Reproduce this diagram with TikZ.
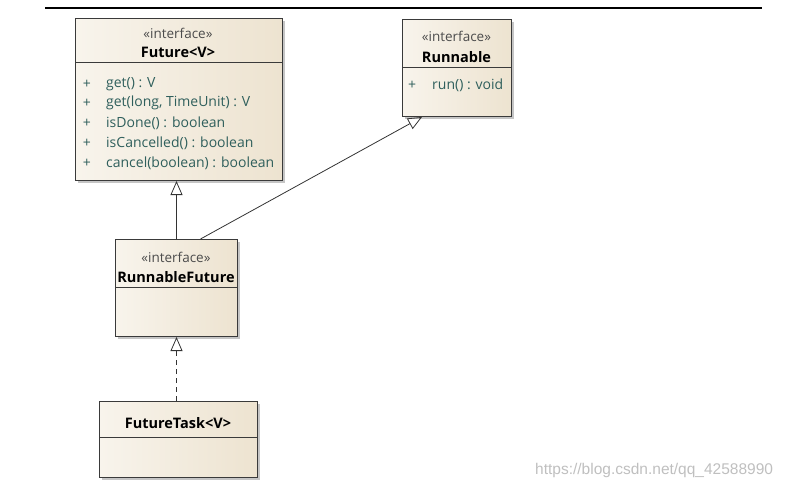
\documentclass[tikz,border=0pt]{standalone}
\usepackage{fontspec}
\setmainfont{Open Sans}
\newfontfamily\wmfont{Liberation Sans}
\usetikzlibrary{arrows.meta,shadows,calc}
\definecolor{boxleft}{HTML}{F8F4EC}
\definecolor{boxright}{HTML}{EDE3D0}
\definecolor{boxline}{HTML}{3A3A3A}
\definecolor{methcol}{HTML}{2F5F5C}
\begin{document}
\begin{tikzpicture}[x=1pt,y=-1pt,
  umlbox/.style={draw=boxline, line width=1pt, left color=boxleft, right color=boxright,
    anchor=north west, inner sep=0pt,
    drop shadow={shadow xshift=2.5pt, shadow yshift=-2.5pt, fill=black!45, opacity=0.5}},
  divider/.style={draw=boxline, line width=1pt},
  stereo/.style={text=black!70, font=\fontsize{13.5}{14}\selectfont, inner sep=0pt},
  title/.style={text=black, font=\fontsize{14.5}{15}\selectfont\bfseries, inner sep=0pt},
  plus/.style={text=methcol, font=\fontsize{14}{15}\selectfont, inner sep=0pt},
  meth/.style={text=methcol, font=\fontsize{14}{15}\selectfont, inner sep=0pt, anchor=west},
  gen/.style={draw=black!80, line width=0.8pt, -{Triangle[open, length=14pt, width=12pt, line width=0.8pt]}},
  real/.style={gen, dashed, dash pattern=on 5pt off 4pt}
]
\useasboundingbox (0,0) rectangle (787,490);
\draw[line width=1.4pt] (45,8) -- (762,8);

% Future<V>
\node[umlbox, minimum width=207pt, minimum height=162pt] (future) at (75,18) {};
\draw[divider] (future.west |- 0,62) -- (future.east |- 0,62);
\node[stereo] (futs) at (178,33) {«interface»};
\node[title] (futt) at (178,52) {Future<V>};
\foreach \y/\t [count=\i] in {84/{get() : V},103/{get(long, TimeUnit) : V},123/{isDone() : boolean},143/{isCancelled() : boolean},163/{cancel(boolean) : boolean}}{
  \node[plus] (fp\i) at (87,\y) {+};
  \node[meth] (fm\i) at (106,\y) {\t};
}

% Runnable
\node[umlbox, minimum width=109pt, minimum height=97pt] (runnable) at (402,19) {};
\draw[divider] (runnable.west |- 0,67) -- (runnable.east |- 0,67);
\node[stereo] (runs) at (456.5,36) {«interface»};
\node[title] (runt) at (456.5,57) {Runnable};
\node[plus] (rp1) at (412,85) {+};
\node[meth] (rm1) at (432,85) {run() : void};

% RunnableFuture
\node[umlbox, minimum width=122pt, minimum height=97pt] (rf) at (115,239) {};
\draw[divider] (rf.west |- 0,287) -- (rf.east |- 0,287);
\node[stereo] (rfs) at (176,257) {«interface»};
\node[title] (rft) at (176,277) {RunnableFuture};

% FutureTask<V>
\node[umlbox, minimum width=158pt, minimum height=76pt] (ft) at (99,401) {};
\draw[divider] (ft.west |- 0,437) -- (ft.east |- 0,437);
\node[title] (ftt) at (178,423) {FutureTask<V>};

% connectors
\draw[gen] (rf.north) -- (rf.north |- future.south);
\draw[gen] ($(rf.north)+(24,0)$) -- ($(runnable.south west)+(20,0)$);
\draw[real] (ft.north -| rf.south) -- (rf.south);

% watermark
\node[text=black!25, font=\wmfont\fontsize{15.5}{16}\selectfont, anchor=west, inner sep=0pt] (wm) at (535,470) {https://blog.csdn.net/qq\_42588990};
\end{tikzpicture}
\end{document}
